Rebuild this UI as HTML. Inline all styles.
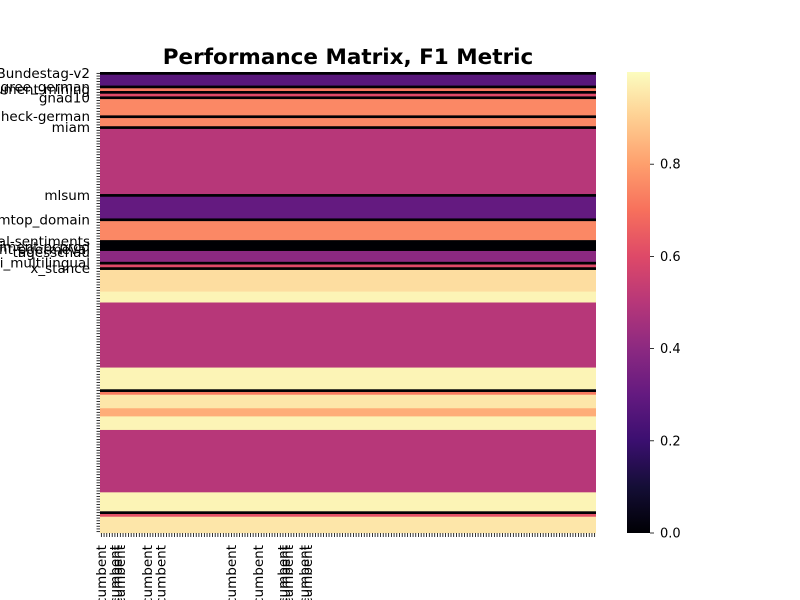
<!DOCTYPE html>
<html><head><meta charset="utf-8"><style>
body{margin:0;background:#fff;}
svg{display:block;font-family:"DejaVu Sans","Liberation Sans",sans-serif;}
</style></head><body>
<svg id="chart" width="800" height="600" viewBox="0 0 800 600" xmlns="http://www.w3.org/2000/svg">
<text x="348" y="64" text-anchor="middle" font-size="21.5" font-weight="bold">Performance Matrix, F1 Metric</text>
<g id="cells"></g>
<g id="yaxis"></g>
<g id="xaxis"></g>
<defs><linearGradient id="cbg" x1="0" y1="1" x2="0" y2="0"></linearGradient></defs>
<rect x="627" y="72" width="23" height="461" fill="url(#cbg)"/>
<g id="cbaxis"></g>
</svg>
<script>
// Band data: [startRow, endRow(inclusive), value]
const bandStarts = [0,1,5,6,7,8,9,10,16,17,20,21,45,46,54,55,62,66,70,71,72,73,81,85,109,117,118,119,124,127,132,155,162,163,164];
const bandEnds   = [0,4,5,6,7,8,9,15,16,19,20,44,45,53,54,61,65,69,70,71,72,80,84,108,116,117,118,123,126,131,154,161,162,163,169];
const bandValues = [0,0.27,0,0.72,0,0.6,0,0.75,0,0.75,0,0.5,0,0.3,0,0.75,0,0.4,0,0.6,0,0.93,0.98,0.5,0.98,0,0.72,0.95,0.83,0.98,0.5,0.98,0,0.62,0.95];
const nRows = 170, nCols = 183;
const yLabels = ["Bundestag-v2","argument-disagree_german","argument-mining","gnad10","german-fact-check-german","miam","mlsum","mtop_domain","financial-sentiments","sentiment-pcprod","sentiment-pgermeval","tagesschau","xnli_multilingual","x_stance"];
const yLabelRows = [0,5,6,9,16,20,45,54,62,64,65,66,70,72];
const xLabels = ["incumbent","incumbent","incumbent","incumbent","incumbent","incumbent","incumbent","incumbent","incumbent","incumbent","incumbent","incumbent","incumbent"];
const xLabelCols = [0,5,6,7,17,22,48,58,67,68,69,75,76];
const cbTicks = [0,0.2,0.4,0.6,0.8];
const cbTickLabels = ["0.0","0.2","0.4","0.6","0.8"];

const X0=100,X1=596,Y0=72,Y1=533;
const cw=(X1-X0)/nCols, rh=(Y1-Y0)/nRows;
const xs=c=>X0+c*cw, ys=r=>Y0+r*rh;
const stops=["#000004","#140e36","#3b0f70","#641a80","#8c2981","#b73779","#de4968","#f7705c","#fe9f6d","#fecf92","#fcfdbf"];
function hex(h){return [1,3,5].map(i=>parseInt(h.substr(i,2),16));}
function magma(v){v=Math.max(0,Math.min(1,v));const p=v*10,i=Math.min(9,Math.floor(p)),t=p-i;const a=hex(stops[i]),b=hex(stops[i+1]);return `rgb(${a.map((x,k)=>Math.round(x+(b[k]-x)*t)).join(',')})`;}
const NS="http://www.w3.org/2000/svg";
function mk(tag,attrs,parent){const e=document.createElementNS(NS,tag);for(const k in attrs)e.setAttribute(k,attrs[k]);parent.appendChild(e);return e;}
const cells=document.getElementById('cells');
bandStarts.forEach((s,i)=>{
  const r=mk('rect',{x:X0,y:ys(s),width:X1-X0,height:ys(bandEnds[i]+1)-ys(s)+0.3,fill:magma(bandValues[i])},cells);
  
  
});
const ya=document.getElementById('yaxis');
for(let r=0;r<nRows;r++){mk('line',{x1:96.5,x2:100,y1:ys(r+0.5),y2:ys(r+0.5),stroke:'#000','stroke-width':0.8},ya);}
yLabels.forEach((l,i)=>{
  const t=mk('text',{x:90,y:ys(yLabelRows[i]+0.5)+4.5,'text-anchor':'end','font-size':13.5},ya);t.textContent=l;
  
  
});
const xa=document.getElementById('xaxis');
for(let c=0;c<nCols;c++){mk('line',{x1:xs(c+0.5),x2:xs(c+0.5),y1:533,y2:537,stroke:'#000','stroke-width':0.8},xa);}
xLabels.forEach((l,i)=>{
  const x=xs(xLabelCols[i]+0.5)+4.5;
  const t=mk('text',{x:x,y:545,'text-anchor':'end','font-size':13.5,transform:`rotate(-90 ${x} 545)`},xa);t.textContent=l;
  
  
});
const g=document.getElementById('cbg');
for(let i=0;i<=10;i++)mk('stop',{offset:(i/10),'stop-color':stops[i]},g);
const cb=document.getElementById('cbaxis');
cbTicks.forEach((v,i)=>{
  const y=533-v*461;
  mk('line',{x1:650,x2:654,y1:y,y2:y,stroke:'#000','stroke-width':0.8},cb);
  const t=mk('text',{x:660,y:y+4.5,'font-size':13},cb);t.textContent=cbTickLabels[i];
  
  
});
</script>
</body></html>
